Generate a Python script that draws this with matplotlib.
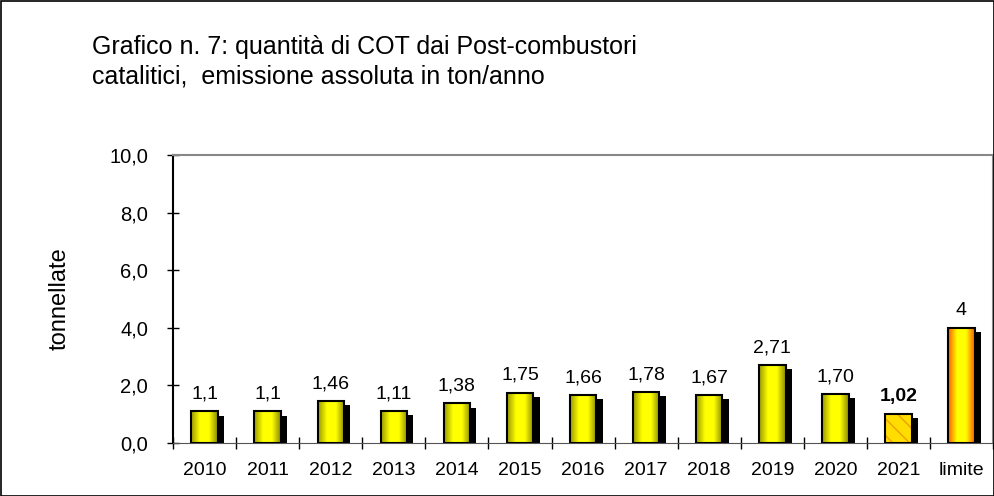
import numpy as np
import matplotlib.pyplot as plt
from matplotlib.patches import Rectangle
from matplotlib.colors import LinearSegmentedColormap

# data
categories = ['2010', '2011', '2012', '2013', '2014', '2015', '2016', '2017',
              '2018', '2019', '2020', '2021', 'limite']
values = [1.1, 1.1, 1.46, 1.11, 1.38, 1.75, 1.66, 1.78, 1.67, 2.71, 1.70, 1.02, 4]
labels = ['1,1', '1,1', '1,46', '1,11', '1,38', '1,75', '1,66', '1,78', '1,67',
          '2,71', '1,70', '1,02', '4']

plt.rcParams['font.family'] = ['Liberation Sans', 'DejaVu Sans']

fig = plt.figure(figsize=(9.95, 4.96), dpi=100)
fig.patches.append(Rectangle((0.001, 0.001), 0.998, 0.997, transform=fig.transFigure,
                             fill=False, edgecolor='black', lw=1.2))
ax = fig.add_axes([0.174, 0.107, 0.824, 0.580])

yellow = LinearSegmentedColormap.from_list('y', ['#9a9a00', '#ffff00', '#ffff00', '#8a8a00'])
orange = LinearSegmentedColormap.from_list('o', ['#ff5a00', '#ffff00', '#ffff00', '#ff5a00'])
grad = np.linspace(0, 1, 64).reshape(1, -1)

fs = 14
w = 0.42
x = np.arange(len(categories))
for i, (v, lab) in enumerate(zip(values, labels)):
    # shadow
    ax.add_patch(Rectangle((x[i] - w / 2 + 0.1, 0), w, v - 0.15, facecolor='black',
                           edgecolor='none', zorder=2))
    rect = Rectangle((x[i] - w / 2, 0), w, v, facecolor='none', edgecolor='black',
                     lw=1.5, zorder=4)
    if categories[i] == '2021':
        ax.add_patch(Rectangle((x[i] - w / 2, 0), w, v, facecolor='#ffdd00',
                               edgecolor='#f0a000', hatch='\\\\', lw=0, zorder=3))
    else:
        cmap = orange if categories[i] == 'limite' else yellow
        im = ax.imshow(grad, cmap=cmap, aspect='auto', zorder=3,
                       extent=(x[i] - w / 2, x[i] + w / 2, 0, v))
        clip = Rectangle((x[i] - w / 2, 0), w, v, transform=ax.transData)
        im.set_clip_path(clip)
    ax.add_patch(rect)
    ax.text(x[i], v + 0.3, lab, ha='center', va='bottom', fontsize=fs,
            fontweight='bold' if categories[i] == '2021' else 'normal')

ax.set_xlim(-0.5, len(categories) - 0.5)
ax.set_ylim(0, 10)
ax.set_yticks(np.arange(0, 10.1, 2))
ax.set_yticklabels([f'{t:.1f}'.replace('.', ',') for t in np.arange(0, 10.1, 2)], fontsize=fs + 0.5)
ax.set_xticks(x)
ax.set_xticklabels(categories, fontsize=fs)
ax.set_xticks(np.arange(-0.5, len(categories), 1), minor=True)
ax.tick_params(axis='x', which='major', length=0, pad=14)
ax.tick_params(axis='x', which='minor', direction='inout', length=8, width=1)
ax.tick_params(axis='y', direction='inout', length=8, width=1, pad=14)
ax.spines['top'].set_color('#888888')
ax.spines['right'].set_color('#888888')
ax.spines['left'].set_linewidth(1.5)
ax.spines['bottom'].set_color('#555555')
ax.spines['top'].set_linewidth(1.5)
ax.spines['right'].set_linewidth(1.5)

ax.set_ylabel('tonnellate', fontsize=17, labelpad=28)

fig.text(0.092, 0.905, 'Grafico n. 7: quantità di COT dai Post-combustori', fontsize=18, va='center')
fig.text(0.092, 0.845, 'catalitici,  emissione assoluta in ton/anno', fontsize=18, va='center')

fig.savefig('out.png', dpi=100)
